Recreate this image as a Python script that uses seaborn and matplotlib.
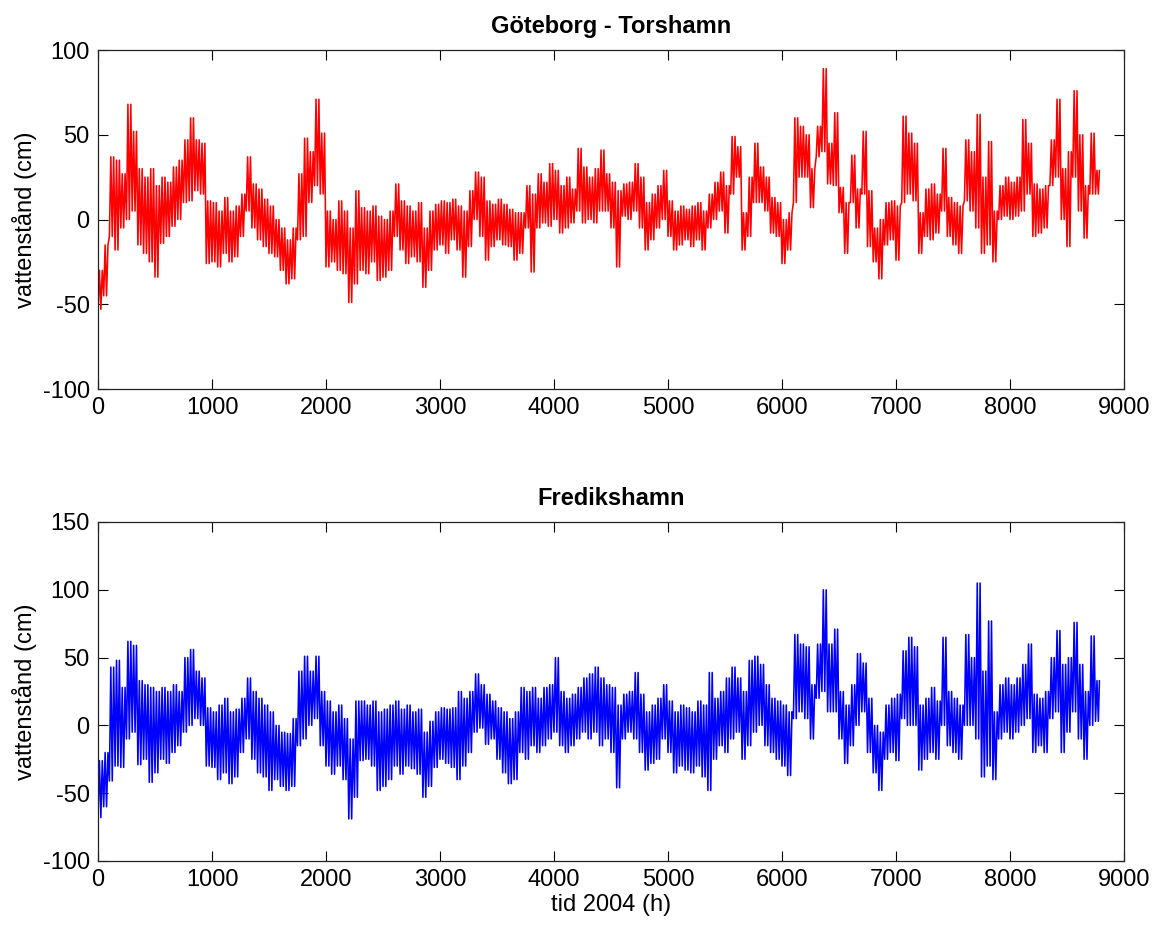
import numpy as np
import pandas as pd
import matplotlib
matplotlib.use("Agg")
import matplotlib.pyplot as plt
import seaborn as sns

# water level per 50 h bin: low and high of each bin
bin_hours = 50
n_hours = 8784

goteborg_lo = [
    -53, -45, -10, -18, -5, 0, 5, -15, -20, -25,
    -34, -14, -10, -4, 0, 10, 11, 17, 15, -26,
    -25, -28, -20, -25, -22, -10, 5, -5, -12, -16,
    -20, -22, -30, -38, -35, -12, -10, 10, 20, 15,
    -28, -25, -30, -32, -49, -38, -30, -32, -25, -36,
    -34, -30, -10, -18, -26, -22, -25, -40, -30, -18,
    -15, -20, -12, -18, -34, -16, 0, -10, -24, -16,
    -12, -15, -16, -24, -20, -5, -31, -5, -2, -4,
    0, -8, -5, -2, 5, -2, 0, -2, 5, 5,
    -5, -28, 2, 0, 5, -5, -18, -12, -5, 0,
    -10, -18, -15, -12, -16, -12, -18, -5, 0, 5,
    -8, 15, 25, -18, -10, 10, 10, 5, -8, -10,
    -26, -18, 10, 25, 25, 7, 37, 40, 21, 20,
    4, -20, 10, -5, 15, -16, -25, -35, -15, -12,
    -24, 10, 15, 11, -20, -10, -12, -8, 5, -10,
    -15, -20, 11, 5, -5, -20, -15, -25, 0, 2,
    0, 2, 5, 15, -10, -8, -5, 20, 25, 0,
    -16, 25, 5, -11, 15, 15,
]
goteborg_hi = [
    -30, -15, 37, 35, 27, 68, 52, 30, 25, 30,
    20, 25, 22, 31, 35, 47, 60, 47, 45, 11,
    10, 5, 13, 5, 8, 15, 37, 21, 18, 12,
    8, 0, -5, -12, -5, 27, 48, 40, 71, 51,
    5, 0, 11, 5, -5, 17, 7, 5, 8, 2,
    0, 5, 21, 11, 8, 5, 10, -5, 5, 9,
    11, 10, 12, 8, 5, 17, 28, 25, 11, 9,
    12, 9, 6, 4, 4, 20, 15, 27, 22, 33,
    29, 20, 25, 18, 42, 31, 25, 30, 41, 27,
    22, 17, 21, 22, 33, 25, 10, 15, 20, 29,
    11, 5, 8, 6, 8, 10, 5, 15, 22, 28,
    20, 49, 43, 4, 25, 45, 31, 25, 13, 10,
    0, 4, 60, 55, 50, 30, 55, 89, 45, 63,
    19, 10, 38, 18, 52, 17, -5, 0, 10, 11,
    8, 61, 51, 45, 4, 18, 21, 15, 42, 13,
    10, 8, 47, 40, 62, 25, 46, 5, 20, 25,
    22, 25, 59, 45, 21, 18, 20, 47, 71, 30,
    40, 76, 50, 20, 51, 29,
]

fredrikshamn_lo = [
    -68, -60, -41, -30, -31, -10, -5, -29, -25, -42,
    -35, -25, -28, -20, -15, -5, 0, 5, 0, -30,
    -31, -40, -35, -43, -38, -20, -10, -25, -35, -38,
    -48, -40, -45, -48, -45, -15, -10, 0, 5, -15,
    -30, -36, -30, -40, -69, -53, -26, -25, -30, -48,
    -45, -40, -30, -36, -30, -32, -36, -53, -45, -31,
    -25, -28, -31, -40, -30, -20, -5, -2, -14, -10,
    -25, -35, -43, -40, -20, -25, -15, -20, -15, -10,
    -5, -15, -20, -15, -10, -5, -10, -5, -15, -10,
    -20, -46, -10, -5, -10, -20, -33, -28, -25, -10,
    -20, -35, -30, -33, -35, -30, -38, -48, -25, -15,
    -20, -10, -5, -25, -15, -5, 0, -15, -20, -25,
    -30, -37, 5, 10, 5, -10, 20, 25, 10, 10,
    -10, -28, -15, 0, 10, -20, -35, -48, -25, -20,
    -26, 5, 0, 0, -33, -25, -20, -25, 0, -15,
    -20, -25, 0, 0, -10, -38, -30, -40, -10, -5,
    -10, -5, 0, 5, -20, -15, -20, 5, 10, -20,
    -5, 10, -10, -25, 0, 3,
]
fredrikshamn_hi = [
    -26, -20, 43, 48, 28, 62, 59, 33, 30, 28,
    25, 28, 25, 30, 25, 50, 56, 40, 35, 13,
    10, 15, 20, 10, 12, 20, 35, 25, 20, 15,
    10, 0, -5, -6, 5, 40, 51, 40, 51, 25,
    18, 10, 15, 5, -10, 18, 18, 15, 18, 10,
    12, 15, 18, 12, 15, 10, 12, -5, 3, 10,
    13, 12, 13, 25, 20, 25, 38, 30, 23, 18,
    13, 10, 5, 10, 28, 25, 28, 20, 28, 30,
    50, 25, 20, 23, 28, 35, 38, 43, 35, 30,
    28, 15, 23, 25, 39, 23, 10, 15, 20, 30,
    18, 10, 15, 13, 10, 18, 15, 39, 20, 25,
    35, 43, 35, 25, 48, 51, 45, 30, 20, 18,
    15, 10, 67, 60, 58, 30, 60, 100, 60, 71,
    25, 15, 30, 53, 46, 20, 0, -5, 15, 20,
    23, 55, 65, 58, 15, 20, 28, 18, 65, 25,
    20, 15, 67, 50, 105, 40, 77, 10, 30, 35,
    30, 35, 45, 60, 23, 20, 25, 50, 70, 45,
    50, 76, 45, 25, 66, 33,
]

panels = [
    ("Göteborg - Torshamn", goteborg_lo, goteborg_hi, "#ff0000", (-100, 100), [-100, -50, 0, 50, 100]),
    ("Fredikshamn", fredrikshamn_lo, fredrikshamn_hi, "#0000ff", (-100, 150), [-100, -50, 0, 50, 100, 150]),
]


def zigzag(lo, hi, strokes=4):
    """Draw each bin as a few quick strokes between its low and its high."""
    start = np.arange(len(lo)) * bin_hours
    steps = np.arange(strokes) * bin_hours / strokes
    hours = np.minimum((start[:, None] + steps[None, :]).ravel(), n_hours)
    pair = np.column_stack([lo, hi])
    level = np.tile(pair, strokes // 2).ravel()
    return pd.DataFrame({"tid": hours, "niva": level})


sns.set_style("ticks")
plt.rcParams["font.family"] = ["Liberation Sans", "DejaVu Sans"]
plt.rcParams["axes.unicode_minus"] = False
plt.rcParams["text.color"] = "black"
plt.rcParams["axes.labelcolor"] = "black"
plt.rcParams["xtick.direction"] = "in"
plt.rcParams["ytick.direction"] = "in"

fig = plt.figure(figsize=(11.57, 9.26), dpi=100)
boxes = [[0.0847, 0.5799, 0.8868, 0.3661], [0.0847, 0.0702, 0.8868, 0.3661]]

for box, (title, lo, hi, color, ylim, yticks) in zip(boxes, panels):
    ax = fig.add_axes(box)
    df = zigzag(lo, hi)
    sns.lineplot(data=df, x="tid", y="niva", sort=False, estimator=None,
                 color=color, lw=1.15, ax=ax)
    ax.set_xlim(0, 9000)
    ax.set_ylim(*ylim)
    ax.set_xticks(range(0, 9001, 1000))
    ax.set_yticks(yticks)
    ax.tick_params(labelsize=17, length=7, width=0.8, top=True, right=True,
                   colors="black", pad=6)
    for sp in ax.spines.values():
        sp.set_visible(True)
        sp.set_linewidth(0.9)
        sp.set_color("#222222")
    ax.set_title(title, fontsize=17, fontweight="bold", pad=12)
    ax.set_ylabel("vattenstånd (cm)", fontsize=17, labelpad=4)
    ax.set_xlabel("")

ax.set_xlabel("tid 2004 (h)", fontsize=17, labelpad=2)

fig.savefig("out.png", dpi=100, facecolor="white")
